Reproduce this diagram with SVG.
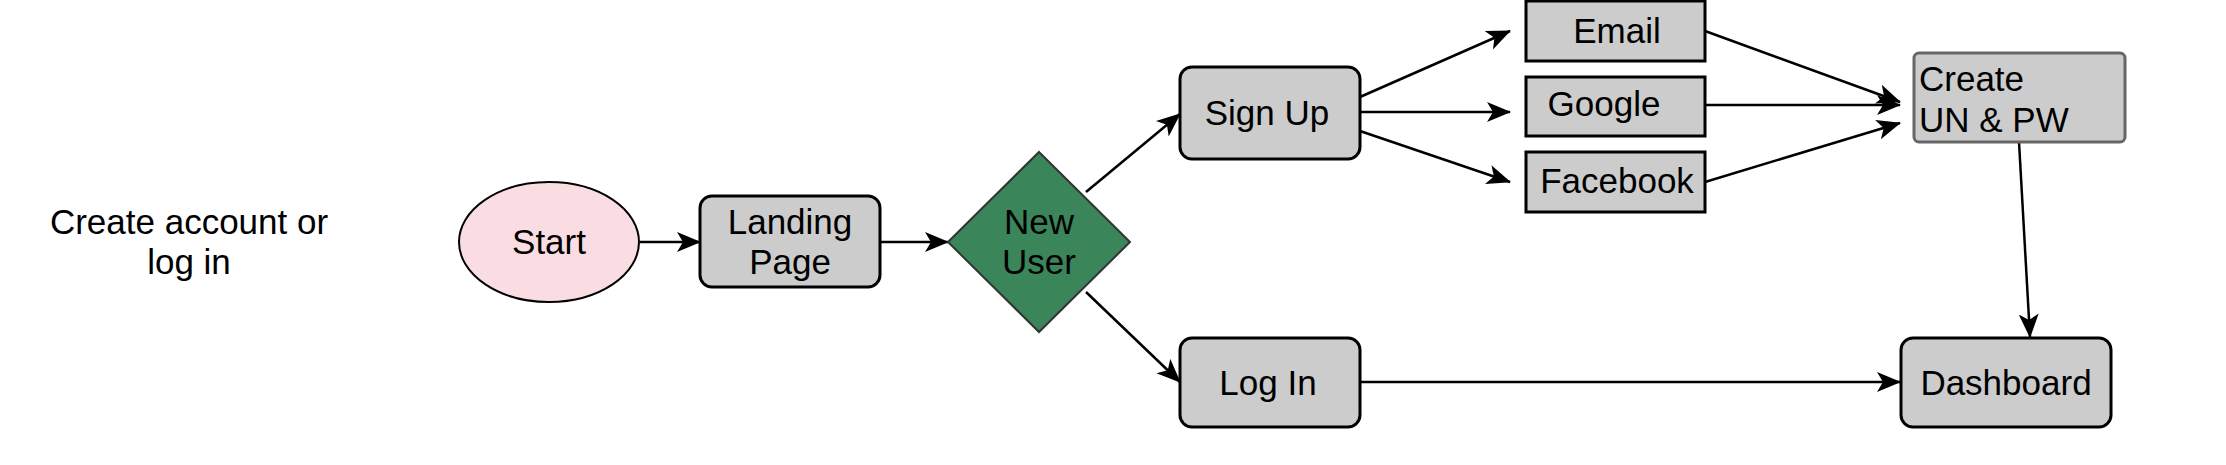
<svg xmlns="http://www.w3.org/2000/svg" width="2226" height="465" viewBox="0 0 2226 465">
<style>
text{font-family:"Liberation Sans",Arial,sans-serif;font-size:35px;fill:#000}
.c{text-anchor:middle}
.box{fill:#cccccc;stroke:#000;stroke-width:3}
.sq{fill:#cccccc;stroke:#000;stroke-width:3}
.edge{stroke:#000;stroke-width:2.5;fill:none;marker-end:url(#ah)}
</style>
<defs>
<marker id="ah" markerUnits="userSpaceOnUse" markerWidth="26" markerHeight="22" refX="23" refY="10" orient="auto" viewBox="0 0 26 22">
<path d="M0,0 L24,10 L0,20 L6,10 Z" fill="#000"/>
</marker>
</defs>
<rect width="2226" height="465" fill="#fff"/>
<g id="label">
<text class="c" x="189" y="234">Create account or</text>
<text class="c" x="189" y="274">log in</text>
</g>
<g id="connectors">
<line class="edge" x1="640" y1="242" x2="700" y2="242"/>
<line class="edge" x1="880" y1="242" x2="948" y2="242"/>
<line class="edge" x1="1086" y1="192" x2="1180" y2="114"/>
<line class="edge" x1="1086" y1="292" x2="1180" y2="382"/>
<line class="edge" x1="1360" y1="97" x2="1510" y2="31"/>
<line class="edge" x1="1360" y1="112" x2="1510" y2="112"/>
<line class="edge" x1="1360" y1="131" x2="1510" y2="182"/>
<line class="edge" x1="1705" y1="31" x2="1900" y2="102"/>
<line class="edge" x1="1705" y1="105" x2="1900" y2="105"/>
<line class="edge" x1="1705" y1="182" x2="1900" y2="123"/>
<line class="edge" x1="2019" y1="142" x2="2030" y2="337"/>
<line class="edge" x1="1360" y1="382" x2="1900" y2="382"/>
</g>
<g id="start">
<ellipse cx="549" cy="242" rx="90" ry="60" fill="#fadde2" stroke="#000" stroke-width="2"/>
<text class="c" x="549" y="254">Start</text>
</g>
<g id="landing">
<rect class="box" x="700" y="196" width="180" height="91" rx="12"/>
<text class="c" x="790" y="234">Landing</text>
<text class="c" x="790" y="274">Page</text>
</g>
<g id="newuser">
<polygon points="1039,152 1130,242 1039,332 948,242" fill="#3b855b" stroke="#333" stroke-width="2"/>
<text class="c" x="1039" y="234">New</text>
<text class="c" x="1039" y="274">User</text>
</g>
<g id="signup">
<rect class="box" x="1180" y="67" width="180" height="92" rx="12"/>
<text class="c" x="1267" y="125">Sign Up</text>
</g>
<g id="login">
<rect class="box" x="1180" y="338" width="180" height="89" rx="12"/>
<text class="c" x="1268" y="395">Log In</text>
</g>
<g id="email">
<rect class="sq" x="1526" y="1" width="179" height="60"/>
<text class="c" x="1617" y="43">Email</text>
</g>
<g id="google">
<rect class="sq" x="1526" y="77" width="179" height="59"/>
<text class="c" x="1604" y="116">Google</text>
</g>
<g id="facebook">
<rect class="sq" x="1526" y="152" width="179" height="60"/>
<text class="c" x="1617" y="193">Facebook</text>
</g>
<g id="create">
<rect x="1914" y="53" width="211" height="89" rx="5" fill="#cccccc" stroke="#666" stroke-width="3"/>
<text x="1919" y="91">Create</text>
<text x="1919" y="132">UN &amp; PW</text>
</g>
<g id="dashboard">
<rect class="box" x="1901" y="338" width="210" height="89" rx="12"/>
<text class="c" x="2006" y="395">Dashboard</text>
</g>
</svg>
